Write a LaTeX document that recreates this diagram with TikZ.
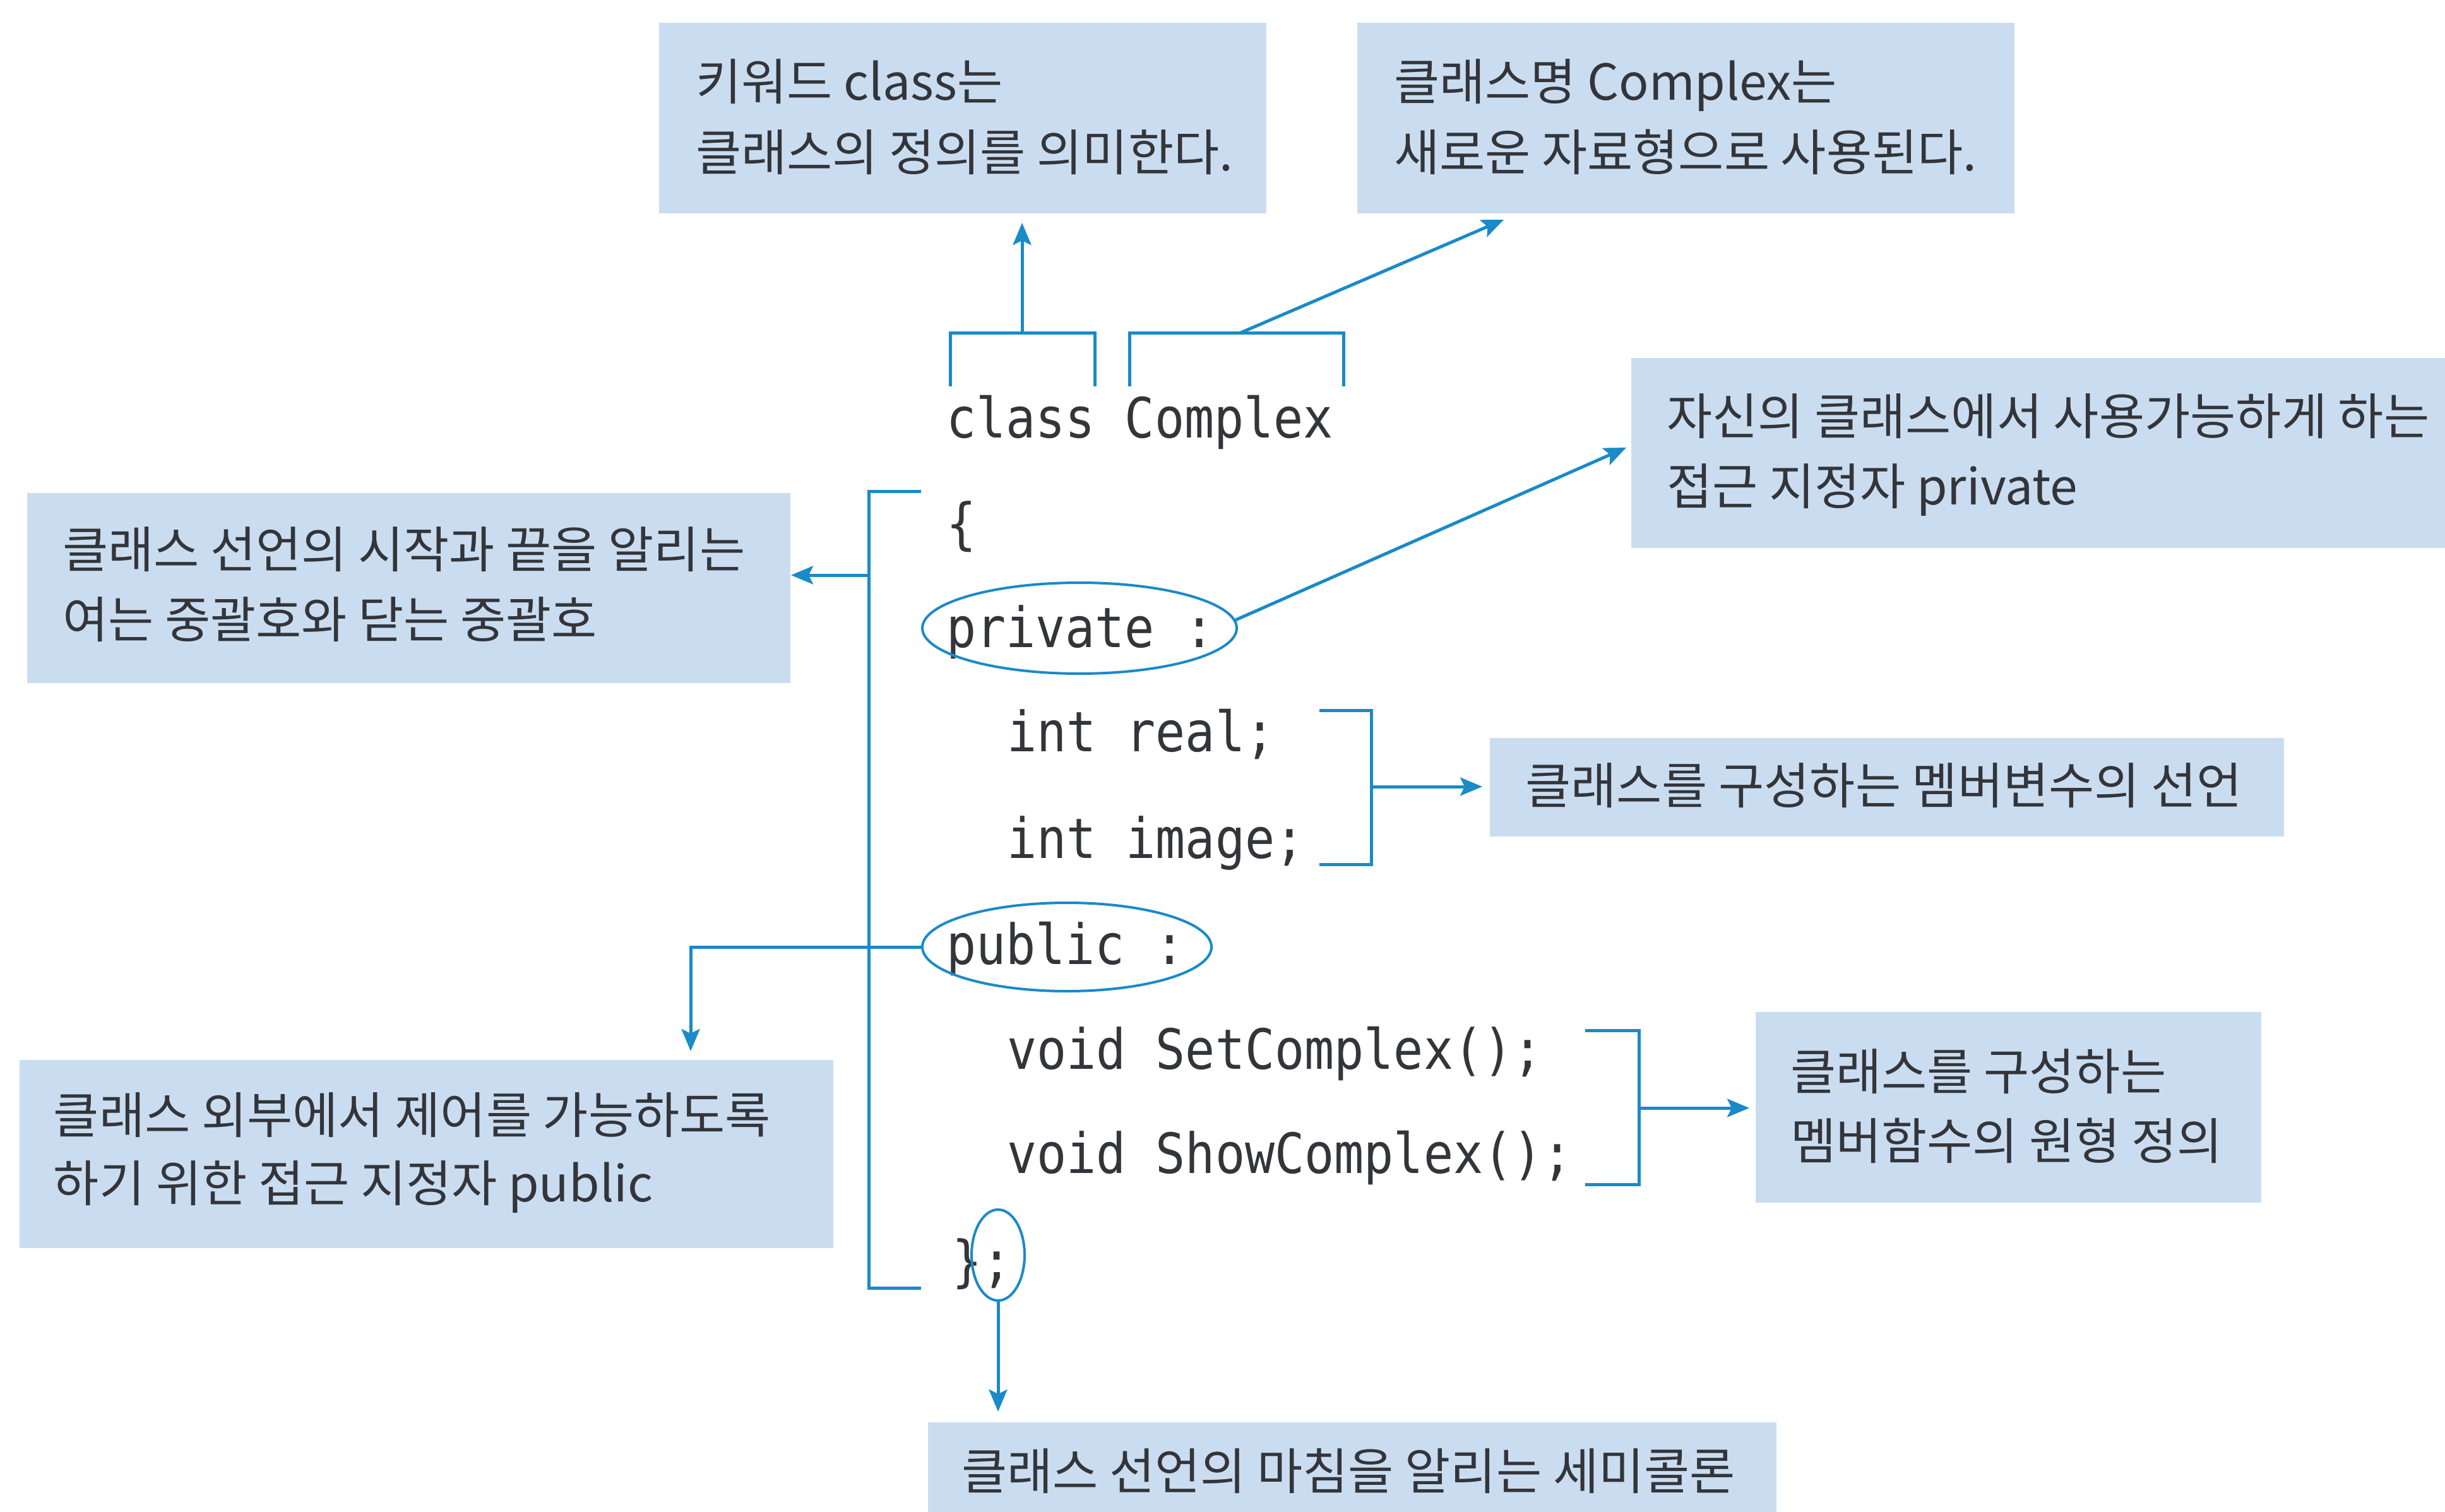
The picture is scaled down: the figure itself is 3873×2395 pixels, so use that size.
\documentclass[tikz,border=0pt]{standalone}
\usepackage{fontspec}
\setmainfont{Noto Sans CJK KR}
\newfontfamily\codefont[FakeStretch=0.89]{DejaVu Sans Mono}
\usetikzlibrary{arrows.meta,shapes.geometric,fit}
\definecolor{boxfill}{RGB}{202,221,240}
\definecolor{lineblue}{RGB}{26,138,200}
\definecolor{txt}{RGB}{51,53,58}
\begin{document}
\begin{tikzpicture}[x=0.2pt,y=-0.2pt,
  boxst/.style={fill=boxfill, draw=none, inner sep=0pt, rectangle},
  lbl/.style={anchor=base west, inner sep=0pt, text=txt, font=\fontsize{15.7}{18}\selectfont},
  code/.style={anchor=base west, inner sep=0pt, text=txt, font=\codefont\fontsize{17.6}{20}\selectfont},
  conn/.style={draw=lineblue, line width=1pt},
  arr/.style={conn, -{Stealth[length=7pt,width=5.8pt,inset=1.4pt]}},
  oval/.style={ellipse, draw=lineblue, line width=0.8pt, inner sep=0pt}
]
\fill[white] (0,0) rectangle (3873,2395);
\useasboundingbox (0,0) rectangle (3873,2395);

% boxes
\node[boxst, fit={(1044,36) (2006,338)}] (b1) {};
\node[boxst, fit={(2150,36) (3191,338)}] (b2) {};
\node[boxst, fit={(2584,567) (3873,868)}] (b3) {};
\node[boxst, fit={(2360,1169) (3618,1325)}] (b4) {};
\node[boxst, fit={(2781,1603) (3582,1905)}] (b5) {};
\node[boxst, fit={(1470,2253) (2814,2395)}] (b6) {};
\node[boxst, fit={(43,781) (1252,1082)}] (b7) {};
\node[boxst, fit={(31,1679) (1320,1977)}] (b8) {};

% box texts
\node[lbl] (t1a) at (1101,159) {키워드 class는};
\node[lbl] (t1b) at (1101,271) {클래스의 정의를 의미한다.};
\node[lbl] (t2a) at (2207,159) {클래스명 Complex는};
\node[lbl] (t2b) at (2207,271) {새로운 자료형으로 사용된다.};
\node[lbl] (t3a) at (2639,689) {자신의 클래스에서 사용가능하게 하는};
\node[lbl] (t3b) at (2639,799) {접근 지정자 private};
\node[lbl] (t4a) at (2415,1273) {클래스를 구성하는 멤버변수의 선언};
\node[lbl] (t5a) at (2835,1726) {클래스를 구성하는};
\node[lbl] (t5b) at (2835,1836) {멤버함수의 원형 정의};
\node[lbl] (t6a) at (1522,2359) {클래스 선언의 마침을 알리는 세미콜론};
\node[lbl] (t7a) at (98,899) {클래스 선언의 시작과 끝을 알리는};
\node[lbl] (t7b) at (98,1010) {여는 중괄호와 닫는 중괄호};
\node[lbl] (t8a) at (84,1795) {클래스 외부에서 제어를 가능하도록};
\node[lbl] (t8b) at (84,1903) {하기 위한 접근 지정자 public};

% code
\node[code] (c1) at (1498,694) {class Complex};
\node[code] (c2) at (1498,860) {\{};
\node[code] (c3) at (1498,1025) {private :};
\node[code] (c4) at (1594,1190) {int real;};
\node[code] (c5) at (1594,1359) {int image;};
\node[code] (c6) at (1498,1527) {public :};
\node[code] (c7) at (1594,1693) {void SetComplex();};
\node[code] (c8) at (1594,1858) {void ShowComplex();};
\node[code] (c9) at (1507,2028) {\};};

% ovals
\node[oval, minimum width=99.6pt, minimum height=28.8pt] (ovpriv) at (1710,995) {};
\node[oval, minimum width=91.6pt, minimum height=28pt] (ovpub) at (1690,1500) {};
\node[oval, minimum width=16.8pt, minimum height=28.8pt] (ovsemi) at (1581,1988) {};

% brackets over class / Complex
\coordinate (ka) at (1505,612); \coordinate (kb) at (1505,528);
\coordinate (kc) at (1734,528); \coordinate (kd) at (1734,612);
\coordinate (kw) at (1619,528);
\draw[conn] (ka) -- (kb) -- (kc) -- (kd);
\draw[arr, shorten >=2.8pt] (kw) -- (kw |- b1.south);

\coordinate (ma) at (1789,612); \coordinate (mb) at (1789,528);
\coordinate (mc) at (2128,528); \coordinate (md) at (2128,612);
\coordinate (cm) at (1963,528); \coordinate (tip2) at (2382,348);
\draw[conn] (ma) -- (mb) -- (mc) -- (md);
\draw[arr] (cm) -- (tip2);

% private
\coordinate (tip3) at (2576,709);
\draw[arr] (ovpriv.3) -- (tip3);

% big left bracket
\coordinate (la) at (1459,779); \coordinate (lb) at (1376,779);
\coordinate (lc) at (1376,2040); \coordinate (ld) at (1459,2040);
\coordinate (lm) at (1376,911);
\draw[conn] (la) -- (lb) -- (lc) -- (ld);
\draw[arr] (lm) -- (lm -| b7.east);

% public
\coordinate (pc) at (1094,1500);
\draw[arr, shorten >=2.6pt] (ovpub.west) -- (pc) -- (pc |- b8.north);

% member variables bracket
\coordinate (va) at (2090,1125); \coordinate (vb) at (2172,1125);
\coordinate (vc) at (2172,1369); \coordinate (vd) at (2090,1369);
\coordinate (vm) at (2172,1246);
\draw[conn] (va) -- (vb) -- (vc) -- (vd);
\draw[arr, shorten >=2.2pt] (vm) -- (vm -| b4.west);

% member functions bracket
\coordinate (fa) at (2511,1632); \coordinate (fb) at (2596,1632);
\coordinate (fc) at (2596,1876); \coordinate (fd) at (2511,1876);
\coordinate (fm) at (2596,1755);
\draw[conn] (fa) -- (fb) -- (fc) -- (fd);
\draw[arr, shorten >=1.8pt] (fm) -- (fm -| b5.west);

% semicolon
\draw[arr, shorten >=3.2pt] (ovsemi.south) -- (ovsemi.south |- b6.north);
\end{tikzpicture}
\end{document}
